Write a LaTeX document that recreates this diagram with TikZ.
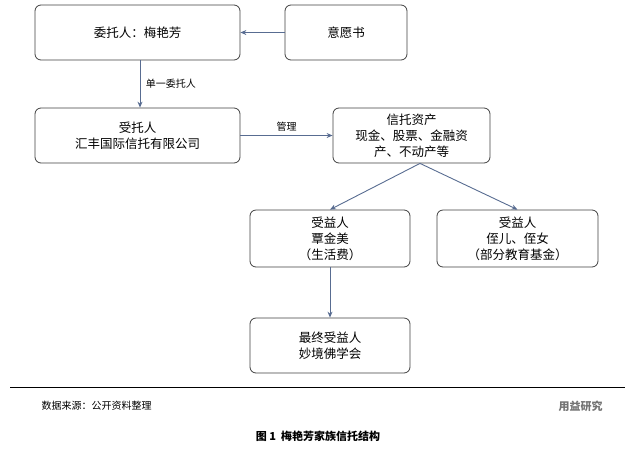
\documentclass[tikz,border=0pt]{standalone}
\usepackage{fontspec}
\setmainfont{Noto Sans CJK SC}
\usetikzlibrary{arrows.meta, positioning}
\definecolor{linkgray}{RGB}{88,108,145}
\tikzset{
  box/.style={rectangle, rounded corners=6pt, draw=black!75, line width=0.8pt,
    fill=white, align=center, font=\fontsize{12.5}{16}\selectfont},
  arrow/.style={-{Stealth[length=6pt,width=5pt]}, draw=linkgray, line width=0.9pt},
  lbl/.style={font=\fontsize{10}{12}\selectfont}
}
\begin{document}
\begin{tikzpicture}[x=1pt, y=-1pt]
    \useasboundingbox (0,0) rectangle (638,451);
    \node (trustor) [box, minimum width=205pt, minimum height=55pt] at (137.5,32.5) {委托人：梅艳芳};
    \node (letter) [box, minimum width=122pt, minimum height=55pt] at (346,32.5) {意愿书};
    \node (trustee) [box, minimum width=205pt, minimum height=55pt] at (137.5,135.5) {受托人\\汇丰国际信托有限公司};
    \node (asset) [box, minimum width=157pt, minimum height=55pt] at (411.5,135.5) {信托资产\\现金、股票、金融资\\产、不动产等};
    \node (ben1) [box, minimum width=160pt, minimum height=57pt] at (330,238.5) {受益人\\覃金美\\（生活费）};
    \node (ben2) [box, minimum width=161pt, minimum height=57pt] at (517.5,238.5) {受益人\\侄儿、侄女\\（部分教育基金）};
    \node (final) [box, minimum width=160pt, minimum height=55pt] at (330,345.5) {最终受益人\\妙境佛学会};

    \draw [arrow] (letter) -- (trustor);
    \draw [arrow] (trustor.south -| 140,0) -- node[lbl, right, xshift=2pt] {单一委托人} (trustee.north -| 140,0);
    \draw [arrow] (trustee) -- node[lbl, above] {管理} (asset);
    \draw [arrow] (asset.south -| 420,0) -- (ben1.north);
    \draw [arrow] (asset.south -| 420,0) -- (ben2.north);
    \draw [arrow] (ben1) -- (final);

    \coordinate (ruleL) at (10,387);
    \coordinate (ruleR) at (625,387);
    \draw [line width=0.8pt] (ruleL) -- (ruleR);
    \node (source) [lbl, anchor=west] at (38,406) {数据来源：公开资料整理};
    \node (mark) [font=\fontsize{11}{13}\selectfont\bfseries, text=black!55, anchor=west] at (555,406) {用益研究};
    \node (caption) [font=\fontsize{11}{13}\selectfont\bfseries] at (318,436) {图 1\ \ 梅艳芳家族信托结构};
\end{tikzpicture}
\end{document}
